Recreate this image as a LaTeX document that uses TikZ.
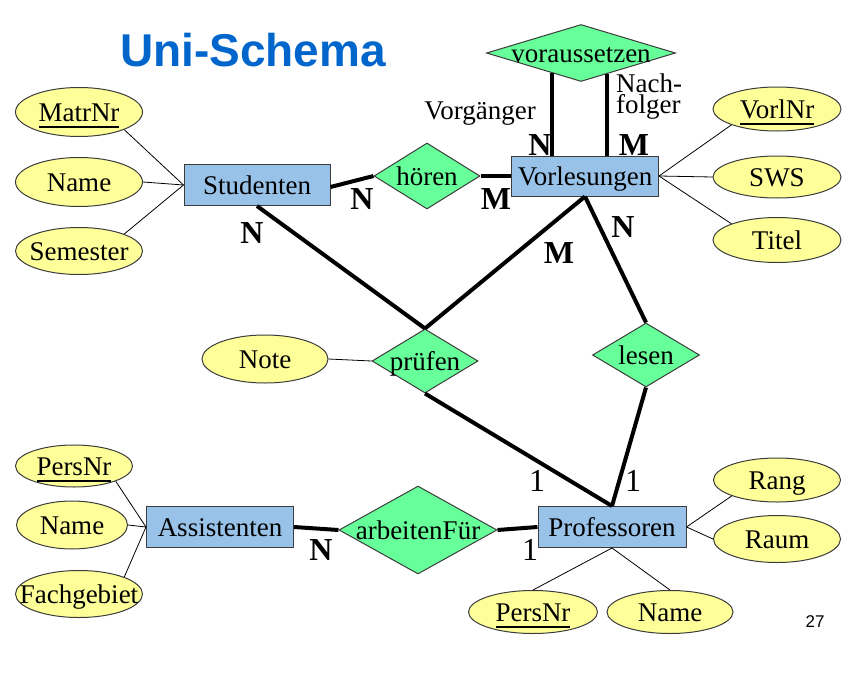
\documentclass[tikz,border=0pt]{standalone}
\usepackage{fontspec}
\setmainfont{Liberation Serif}
\newfontfamily\headfont{Liberation Sans}
\usetikzlibrary{shapes.geometric,calc}

\definecolor{entfill}{RGB}{153,194,232}
\definecolor{relfill}{RGB}{102,255,153}
\definecolor{attfill}{RGB}{255,255,153}
\definecolor{headblue}{RGB}{0,102,204}
\definecolor{edgegray}{RGB}{60,60,60}

% key attribute: text with a heavy underline
\newcommand\keyattr[1]{\setbox0\hbox{#1}\rlap{\smash{\raisebox{-6pt}{\rule{\wd0}{2pt}}}}\box0}
% text that does not widen its shape
\newcommand\nowidth[1]{\makebox[0pt]{#1}}

\tikzset{
  basefont/.style={font=\fontsize{27}{32}\selectfont},
  cardfont/.style={font=\fontsize{32}{36}\selectfont\bfseries},
  onefont/.style={font=\fontsize{32}{36}\selectfont},
  entity/.style={basefont, rectangle, draw=edgegray, line width=1pt, fill=entfill,
    inner sep=0pt, text height=19pt, text depth=0pt},
  rel/.style={basefont, diamond, draw=edgegray, line width=1pt, fill=relfill,
    inner sep=0pt, text height=19pt, text depth=0pt},
  attr/.style={basefont, ellipse, draw=edgegray, line width=1pt, fill=attfill,
    inner sep=0pt, text height=19pt, text depth=0pt},
  strong/.style={line width=4pt, black},
  thin/.style={line width=0.8pt, black},
}

\begin{document}
\begin{tikzpicture}[x=1pt,y=-1pt]
\useasboundingbox (0,0) rectangle (852,680);

% heading and page number
\node[anchor=base west, inner sep=0pt, text=headblue, font=\headfont\bfseries\fontsize{46}{50}\selectfont] (head) at (120,66) {Uni-Schema};
\node[anchor=base, inner sep=0pt, font=\headfont\fontsize{17}{20}\selectfont] (pagenum) at (815,627) {27};

% entities
\node[entity, minimum width=146pt, minimum height=41pt] (stud) at (257,185) {\nowidth{Studenten}};
\node[entity, minimum width=147pt, minimum height=40pt] (vorl) at (585,176) {\nowidth{Vorlesungen}};
\node[entity, minimum width=147pt, minimum height=41pt] (assi) at (220,527) {\nowidth{Assistenten}};
\node[entity, minimum width=148pt, minimum height=41pt] (prof) at (612,527) {\nowidth{Professoren}};

% relationships
\node[rel, minimum width=189pt, minimum height=57pt] (vor) at (581,53) {\nowidth{voraussetzen}};
\node[rel, minimum width=106pt, minimum height=66pt] (hoe) at (427,176) {\nowidth{hören}};
\node[rel, minimum width=106pt, minimum height=64pt] (pru) at (425,361) {\nowidth{prüfen}};
\node[rel, minimum width=107pt, minimum height=64pt] (les) at (646,355) {\nowidth{lesen}};
\node[rel, minimum width=158pt, minimum height=88pt] (arb) at (418,530) {\nowidth{arbeitenFür}};

% attributes
\node[attr, minimum width=127pt, minimum height=49pt] (matr) at (79,112) {\nowidth{\keyattr{MatrNr}}};
\node[attr, minimum width=127pt, minimum height=49pt] (sname) at (79,182) {\nowidth{Name}};
\node[attr, minimum width=127pt, minimum height=47pt] (sem) at (79,251) {\nowidth{Semester}};

\node[attr, minimum width=128pt, minimum height=44pt] (vnr) at (777,109) {\nowidth{\keyattr{VorlNr}}};
\node[attr, minimum width=128pt, minimum height=42pt] (sws) at (777,177) {\nowidth{SWS}};
\node[attr, minimum width=128pt, minimum height=45pt] (tit) at (777,240) {\nowidth{Titel}};

\node[attr, minimum width=126pt, minimum height=48pt] (note) at (265,359) {\nowidth{Note}};

\node[attr, minimum width=117pt, minimum height=42pt] (apnr) at (74,466) {\nowidth{\keyattr{PersNr}}};
\node[attr, minimum width=111pt, minimum height=48pt] (aname) at (72,525) {\nowidth{Name}};
\node[attr, minimum width=127pt, minimum height=47pt] (fach) at (79,594) {\nowidth{Fachgebiet}};

\node[attr, minimum width=127pt, minimum height=44pt] (rang) at (777,480) {\nowidth{Rang}};
\node[attr, minimum width=127pt, minimum height=47pt] (raum) at (777,539) {\nowidth{Raum}};
\node[attr, minimum width=129pt, minimum height=43pt] (ppnr) at (533,612) {\nowidth{\keyattr{PersNr}}};
\node[attr, minimum width=126pt, minimum height=43pt] (pname) at (670,612) {\nowidth{Name}};

% attribute links
\draw[thin] (matr.south east) -- (stud.west);
\draw[thin] (sname.east) -- (stud.west);
\draw[thin] (sem.north east) -- (stud.west);
\draw[thin] (vnr.south west) -- (vorl.east);
\draw[thin] (sws.west) -- (vorl.east);
\draw[thin] (tit.north west) -- (vorl.east);
\draw[thin] (note.east) -- (pru.west);
\draw[thin] (apnr.south east) -- (assi.west);
\draw[thin] (aname.east) -- (assi.west);
\draw[thin] (fach.north east) -- (assi.west);
\draw[thin] (rang.south west) -- (prof.east);
\draw[thin] (raum.west) -- (prof.east);
\draw[thin] (ppnr.north) -- (prof.south);
\draw[thin] (pname.north) -- (prof.south);

% relationship links
\draw[strong] ([yshift=-2pt]stud.east) -- (hoe.west);
\draw[strong] (hoe.east) -- (vorl.west);
\draw[strong] (stud.south) -- (pru.north);
\draw[strong] (vorl.south) -- (pru.north);
\draw[strong] (vorl.south) -- (les.north);
\draw[strong] (pru.south) -- (prof.north);
\draw[strong] (les.south) -- (prof.north);
\draw[strong] (assi.east) -- (arb.west);
\draw[strong] (arb.east) -- (prof.west);

% the two roles of voraussetzen
\coordinate (vorg) at ($(vor.south)!0.307!(vor.west)$);
\coordinate (nach) at ($(vor.south)!0.275!(vor.east)$);
\draw[strong] (vorg) -- (vorg |- vorl.north);
\draw[strong] (nach) -- (nach |- vorl.north);

% role names
\node[basefont, anchor=base, inner sep=0pt] (rvorg) at (480,119) {Vorgänger};
\node[font=\fontsize{27}{21}\selectfont, align=left, anchor=base west, inner sep=0pt] (rnach) at (616,113) {Nach-\\folger};

% cardinalities
\node[cardfont, anchor=base, inner sep=0pt] (c1) at (540,155) {N};
\node[cardfont, anchor=base, inner sep=0pt] (c2) at (634,155) {M};
\node[cardfont, anchor=base, inner sep=0pt] (c3) at (362,209) {N};
\node[cardfont, anchor=base, inner sep=0pt] (c4) at (496,209) {M};
\node[cardfont, anchor=base, inner sep=0pt] (c5) at (252,243) {N};
\node[cardfont, anchor=base, inner sep=0pt] (c6) at (559,263) {M};
\node[cardfont, anchor=base, inner sep=0pt] (c7) at (623,237) {N};
\node[cardfont, anchor=base, inner sep=0pt] (c8) at (321,560) {N};
\node[onefont, anchor=base, inner sep=0pt] (c9) at (537,491) {1};
\node[onefont, anchor=base, inner sep=0pt] (c10) at (633,491) {1};
\node[onefont, anchor=base, inner sep=0pt] (c11) at (530,560) {1};
\end{tikzpicture}
\end{document}
